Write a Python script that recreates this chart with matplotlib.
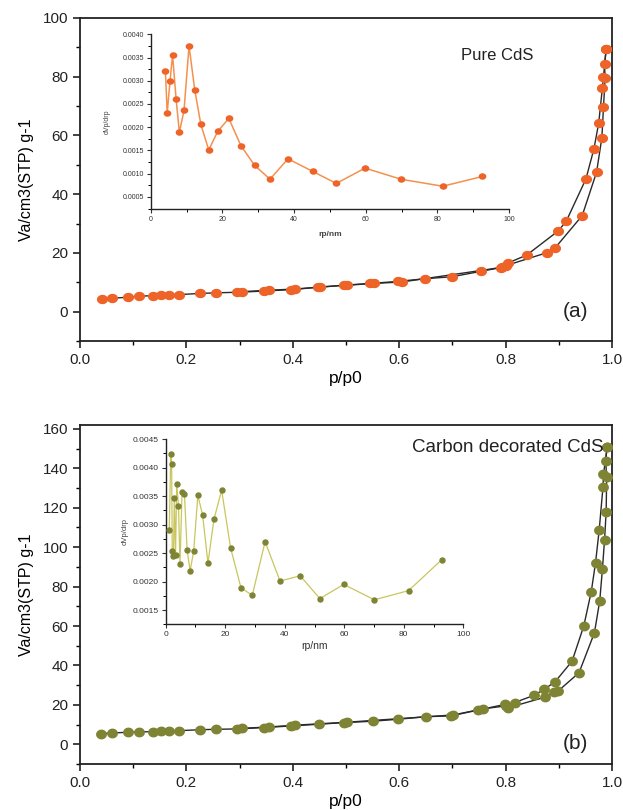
import numpy as np
import matplotlib
matplotlib.use("Agg")
import matplotlib.pyplot as plt
from matplotlib.path import Path
from matplotlib.ticker import MultipleLocator

plt.rcParams['font.family'] = ['Liberation Sans', 'DejaVu Sans']

# ---------------- Panel (a): Pure CdS isotherm ----------------
a_ads_p = [0.042, 0.061, 0.091, 0.111, 0.137, 0.152, 0.167, 0.186, 0.226, 0.255,
           0.296, 0.345, 0.397, 0.448, 0.496, 0.546, 0.598, 0.648, 0.700, 0.791,
           0.801, 0.878, 0.893, 0.944, 0.971, 0.981, 0.984, 0.987, 0.986, 0.989]
a_ads_v = [4.4, 4.6, 4.9, 5.3, 5.4, 5.5, 5.6, 5.8, 6.2, 6.4,
           6.6, 7.0, 7.5, 8.3, 9.0, 9.6, 10.3, 11.2, 11.9, 15.0,
           15.7, 20.1, 21.7, 32.7, 47.5, 59.3, 69.6, 79.4, 84.3, 89.3]
a_des_p = [0.989, 0.984, 0.982, 0.975, 0.966, 0.951, 0.914, 0.899, 0.840, 0.805,
           0.793, 0.753, 0.605, 0.552, 0.502, 0.452, 0.405, 0.355, 0.305]
a_des_v = [89.3, 80.0, 76.3, 64.2, 55.4, 45.2, 30.8, 27.5, 19.3, 16.6,
           15.1, 14.0, 10.1, 9.6, 9.0, 8.4, 7.7, 7.3, 6.8]

# inset (a): pore size distribution
a_rp = [4.1, 4.6, 5.4, 6.1, 7.1, 8.0, 9.3, 10.7, 12.3, 14.0, 16.2, 18.7, 21.8,
        25.2, 29.0, 33.3, 38.3, 45.2, 51.8, 59.8, 69.9, 81.5, 92.6]
a_dv = [0.00322, 0.00230, 0.00300, 0.00355, 0.00260, 0.00189, 0.00236, 0.00375,
        0.00280, 0.00206, 0.00151, 0.00191, 0.00219, 0.00160, 0.00118, 0.00088,
        0.00132, 0.00105, 0.00079, 0.00112, 0.00088, 0.00073, 0.00094]

# ---------------- Panel (b): Carbon decorated CdS isotherm ----------------
b_ads_p = [0.040, 0.061, 0.091, 0.111, 0.137, 0.152, 0.167, 0.186, 0.226, 0.255,
           0.296, 0.346, 0.397, 0.450, 0.496, 0.550, 0.598, 0.650, 0.697, 0.749,
           0.798, 0.804, 0.874, 0.891, 0.899, 0.938, 0.967, 0.977, 0.982, 0.986,
           0.989, 0.990, 0.988, 0.991]
b_ads_v = [5.4, 5.75, 6.1, 6.3, 6.4, 6.6, 6.8, 6.9, 7.4, 7.6,
           7.8, 8.5, 9.3, 10.2, 11.0, 11.7, 12.7, 14.0, 14.4, 17.4,
           20.2, 18.5, 23.9, 26.5, 27.1, 36.3, 56.6, 72.9, 88.9, 103.8,
           117.9, 135.7, 143.9, 151.0]
b_des_p = [0.991, 0.984, 0.983, 0.976, 0.969, 0.961, 0.947, 0.925, 0.893, 0.872,
           0.853, 0.817, 0.801, 0.758, 0.702, 0.502, 0.405, 0.355, 0.305]
b_des_v = [151.0, 136.9, 130.4, 108.9, 92.0, 77.4, 60.1, 42.2, 31.7, 27.8,
           24.8, 21.2, 19.5, 18.0, 14.9, 11.2, 9.7, 8.8, 8.1]

# inset (b)
b_rp = [1.2, 1.7, 2.0, 2.2, 2.6, 2.9, 3.3, 3.7, 4.3, 4.8, 5.5, 6.3, 7.2, 8.2, 9.4,
        10.8, 12.4, 14.2, 16.2, 18.8, 21.8, 25.3, 29.1, 33.4, 38.4, 45.2, 51.8,
        59.8, 70.1, 81.6, 92.7]
b_dv = [0.00290, 0.00423, 0.00406, 0.00253, 0.00244, 0.00346, 0.00246, 0.00371,
        0.00333, 0.00231, 0.00357, 0.00353, 0.00255, 0.00219, 0.00253, 0.00351,
        0.00317, 0.00232, 0.00309, 0.00360, 0.00259, 0.00189, 0.00176, 0.00270,
        0.00201, 0.00210, 0.00170, 0.00195, 0.00168, 0.00184, 0.00238]

ORANGE = '#EE6428'
ORANGE_L = '#F4914F'
OLIVE = '#7E8434'
OLIVE_L = '#C9C65C'
LINE = '#2a2a2a'

# ellipse marker
t = np.linspace(0, 2 * np.pi, 40)
ell = Path(np.column_stack([1.22 * np.cos(t), np.sin(t)]), closed=True)
ell_b = Path(np.column_stack([1.12 * np.cos(t), np.sin(t)]), closed=True)

fig = plt.figure(figsize=(6.23, 8.10), dpi=100)
W, H = 623.0, 810.0


def ax_rect(l, r, top, bot):
    return [l / W, 1 - bot / H, (r - l) / W, (bot - top) / H]


def style_main(ax, ymajor):
    ax.set_xlim(0, 1.0)
    ax.xaxis.set_major_locator(MultipleLocator(0.2))
    ax.xaxis.set_minor_locator(MultipleLocator(0.1))
    ax.yaxis.set_major_locator(MultipleLocator(ymajor))
    ax.yaxis.set_minor_locator(MultipleLocator(ymajor / 2))
    ax.tick_params(axis='both', which='major', direction='out', length=5,
                   width=1.2, labelsize=11, colors='#222222')
    ax.tick_params(axis='both', which='minor', direction='out', length=3,
                   width=1.0)
    for s in ax.spines.values():
        s.set_linewidth(1.3)
        s.set_color('#222222')
    ax.xaxis.set_major_formatter(plt.FuncFormatter(lambda v, p: f"{v:.1f}"))
    ax.set_xlabel('p/p0', fontsize=12.5, labelpad=3)
    ax.set_ylabel('Va/cm3(STP) g-1', fontsize=11.5, labelpad=6)


def style_inset(ax, fs):
    ax.spines['top'].set_visible(False)
    ax.spines['right'].set_visible(False)
    for s in ('left', 'bottom'):
        ax.spines[s].set_linewidth(1.0)
        ax.spines[s].set_color('#222222')
    ax.patch.set_alpha(0)
    ax.set_xlim(0, 100)
    ax.xaxis.set_major_locator(MultipleLocator(20))
    ax.xaxis.set_minor_locator(MultipleLocator(10))
    ax.yaxis.set_major_locator(MultipleLocator(0.0005))
    ax.yaxis.set_minor_locator(MultipleLocator(0.00025))
    ax.tick_params(axis='both', which='major', length=3, width=0.8,
                   labelsize=fs, colors='#333333', pad=2)
    ax.tick_params(axis='both', which='minor', length=2, width=0.7)
    ax.yaxis.set_major_formatter(plt.FuncFormatter(lambda v, p: f"{v:.4f}"))


# ---------- panel a ----------
axa = fig.add_axes(ax_rect(80, 612, 18, 341))
axa.plot(a_ads_p, a_ads_v, '-', color=LINE, lw=1.0, zorder=2)
axa.plot(a_des_p, a_des_v, '-', color=LINE, lw=1.0, zorder=2)
axa.plot(a_ads_p, a_ads_v, ls='none', marker=ell, ms=7.0, color=ORANGE,
         mec=ORANGE, zorder=3)
axa.plot(a_des_p, a_des_v, ls='none', marker=ell, ms=7.0, color=ORANGE,
         mec=ORANGE, zorder=3)
axa.set_ylim(-10, 100)
style_main(axa, 20)
axa.text(0.955, 0.09, '(a)', transform=axa.transAxes, fontsize=15,
         ha='right', va='center', color='#222222')
axa.text(0.784, 0.885, 'Pure CdS', transform=axa.transAxes, fontsize=12,
         ha='center', va='center', color='#222222')

ina = fig.add_axes(ax_rect(150.7, 509, 34.3, 209))
ina.plot(a_rp, a_dv, '-', color=ORANGE_L, lw=1.1, zorder=2)
ina.plot(a_rp, a_dv, ls='none', marker=ell, ms=4.5, color=ORANGE,
         mec=ORANGE, zorder=3)
ina.set_ylim(0.00024, 0.0040)
style_inset(ina, 5.0)
ina.set_xlabel('rp/nm', fontsize=6, fontweight='bold', color='#444444', labelpad=6)
ina.set_ylabel('dVp/drp', fontsize=5, color='#444444', labelpad=8)

# ---------- panel b ----------
axb = fig.add_axes(ax_rect(80, 612, 425, 764))
axb.plot(b_ads_p, b_ads_v, '-', color=LINE, lw=1.0, zorder=2)
axb.plot(b_des_p, b_des_v, '-', color=LINE, lw=1.0, zorder=2)
axb.plot(b_ads_p, b_ads_v, ls='none', marker=ell_b, ms=6.8, color=OLIVE,
         mec=OLIVE, zorder=3)
axb.plot(b_des_p, b_des_v, ls='none', marker=ell_b, ms=6.8, color=OLIVE,
         mec=OLIVE, zorder=3)
axb.set_ylim(-10, 162)
style_main(axb, 20)
axb.yaxis.set_minor_locator(MultipleLocator(10))
axb.text(0.955, 0.06, '(b)', transform=axb.transAxes, fontsize=15,
         ha='right', va='center', color='#222222')
axb.text(0.805, 0.933, 'Carbon decorated CdS', transform=axb.transAxes,
         fontsize=13.5, ha='center', va='center', color='#222222')

inb = fig.add_axes(ax_rect(165.7, 463.3, 439, 624.3))
inb.plot(b_rp, b_dv, '-', color=OLIVE_L, lw=0.9, zorder=2)
inb.plot(b_rp, b_dv, ls='none', marker='o', ms=3.6, color=OLIVE,
         mec=OLIVE, zorder=3)
inb.set_ylim(0.00125, 0.0045)
style_inset(inb, 6.0)
inb.set_xlabel('rp/nm', fontsize=7.5, color='#333333', labelpad=2)
inb.set_ylabel('dVp/drp', fontsize=5.5, color='#444444', labelpad=3)

fig.savefig('out.png', dpi=100)
